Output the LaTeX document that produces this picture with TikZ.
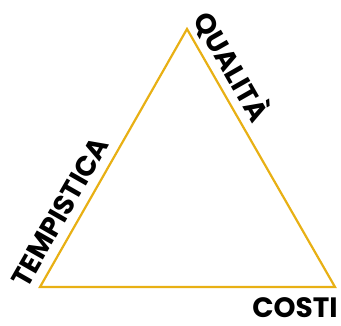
\documentclass[tikz,border=0pt]{standalone}
\usepackage{fontspec}
\setmainfont{Poppins}
\definecolor{gold}{HTML}{E8B014}
\begin{document}
\begin{tikzpicture}[x=1pt,y=1pt,
  lbl/.style={font=\fontsize{28}{31}\selectfont\bfseries, inner sep=0pt}]
\useasboundingbox (0,0) rectangle (341,326);
\coordinate (A) at (40,39);
\coordinate (B) at (187,297);
\coordinate (C) at (335,39);
\draw[gold, line width=2.2pt, line join=miter] (A) -- (B) -- (C) -- cycle;
\node[lbl, rotate=60.3] (tempo) at (60,114) {TEMPISTICA};
\node[lbl, rotate=-60.3] (qual) at (233,260) {QUALITÀ};
\node[lbl] (costi) at (295,18) {COSTI};
\end{tikzpicture}
\end{document}
